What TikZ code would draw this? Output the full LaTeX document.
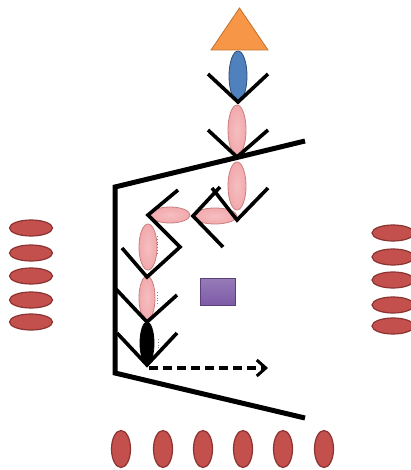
\documentclass[tikz,border=0pt]{standalone}
\usetikzlibrary{shapes.geometric,arrows.meta}
\definecolor{pinkfill}{HTML}{F2A9AC}
\definecolor{pinkedge}{HTML}{C98080}
\definecolor{bluefill}{HTML}{4F81BD}
\definecolor{blueedge}{HTML}{2F4F7A}
\definecolor{orangefill}{HTML}{F79646}
\definecolor{orangeedge}{HTML}{C0702E}
\definecolor{redfill}{HTML}{C4504E}
\definecolor{rededge}{HTML}{8A3331}
\definecolor{purplefill}{HTML}{7D5BA6}
\definecolor{purpleedge}{HTML}{5A3F7D}
\tikzset{
  oval/.style={ellipse, inner sep=0pt, line width=0.8pt},
  pinkoval/.style={oval, draw=pinkedge, inner color=pinkfill!75!white, outer color=pinkfill},
  redoval/.style={oval, draw=rededge, line width=1.2pt, fill=redfill},
  vstroke/.style={line width=3.6pt, black, line cap=butt, line join=miter},
  frame/.style={line width=5pt, black, line cap=butt, line join=miter},
  tick/.style={gray, line width=0.8pt, dotted},
}
\begin{document}
\begin{tikzpicture}[x=1pt, y=-1pt]
\useasboundingbox (0,0) rectangle (411,470);
\fill[white] (0,0) rectangle (411,470);

% receptor column on the membrane
\node[pinkoval, minimum width=18pt, minimum height=50pt] (p1) at (237,130) {};
\node[pinkoval, minimum width=18pt, minimum height=48pt] (p2) at (237,186) {};
\node[pinkoval, minimum width=44pt, minimum height=16pt] (p3) at (215,216) {};
\node[pinkoval, minimum width=40pt, minimum height=16pt] (p4) at (170,215) {};
\node[pinkoval, minimum width=18pt, minimum height=46pt] (p5) at (148,247) {};
\node[pinkoval, minimum width=16pt, minimum height=44pt] (p6) at (147,298) {};
\node[oval, draw=black, fill=black, minimum width=14pt, minimum height=42pt] (bk) at (147,343) {};
\node[oval, draw=blueedge, fill=bluefill, minimum width=18pt, minimum height=50pt] (bl) at (238,76) {};

% ligand
\filldraw[draw=orangeedge, line width=0.8pt, fill=orangefill, line join=miter]
  (211,50) -- (239.5,8) -- (268,50) -- cycle;

% hinge strokes
\draw[vstroke] (208,74) -- (238,102) -- (268,74);
\draw[vstroke] (208,130) -- (237,157) -- (268,130);
\draw[vstroke] (212,188) -- (237,220) -- (268,188);
\draw[vstroke] (220,187) -- (193,216) -- (223,247);
\draw[vstroke] (178,190) -- (148,215) -- (180,247) -- (147,277) -- (122,248);
\draw[vstroke] (115,288) -- (147,322) -- (177,295);
\draw[vstroke] (117,333) -- (147,365) -- (177,333);

% membrane frame
\draw[frame] (305,141) -- (115,187) -- (115,373) -- (305,418);

% small marks beside the lower segments
\draw[tick] (157,236) -- (157,253);
\draw[tick] (157,292) -- (157,306);
\draw[tick] (158,339) -- (158,348);

% signal arrow
\coordinate (sigstart) at (149,368);
\coordinate (sigend) at (268,368);
\draw[line width=3.4pt, dash pattern=on 9pt off 5pt, -{Straight Barb[length=9pt,width=16pt,line width=3pt]}]
  (sigstart) -- (sigend);

% effector
\node[draw=purpleedge, line width=0.8pt, top color=purplefill!80!white, bottom color=purplefill,
      minimum width=35pt, minimum height=27pt, inner sep=0pt] (eff) at (217.5,291.5) {};

% cells on the left
\foreach \i/\yy in {1/228, 2/253, 3/276, 4/300, 5/322}
  \node[redoval, minimum width=43pt, minimum height=16pt] (l\i) at (31,\yy) {};
% cells on the right
\foreach \i/\yy in {1/233, 2/257, 3/280, 4/305, 5/326}
  \node[redoval, minimum width=42pt, minimum height=16pt] (r\i) at (393,\yy) {};
% cells along the bottom
\foreach \i/\xx in {1/121, 2/163, 3/203, 4/243, 5/283, 6/324}
  \node[redoval, minimum width=19pt, minimum height=37pt] (b\i) at (\xx,449) {};
\end{tikzpicture}
\end{document}
